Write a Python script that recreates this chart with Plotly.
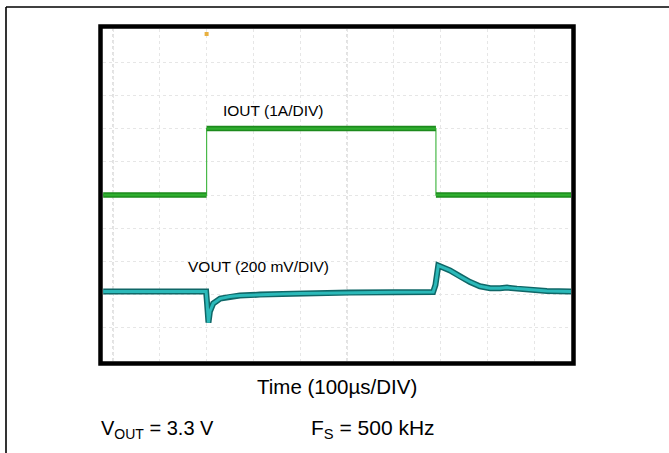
import plotly.graph_objects as go

# ---------------- data ----------------
# time in microseconds (100 us / div)
iout_time = [-21, 200, 200, 690, 690, 979]
iout_amps = [0, 0, 2, 2, 0, 0]          # load current step (A), 1 A/DIV

vout_time = [-21, 100, 199, 201, 204, 207, 214, 229, 250, 271, 314, 360, 400,
             450, 506, 600, 684, 689, 695, 720, 741, 763, 784, 806, 827, 842,
             863, 891, 927, 979]
vout_mv = [0, 0, 0, -70, -187, -120, -72, -42, -30, -24, -18, -14, -12,
           -9, -6, -4, -3, 40, 157, 128, 92, 58, 32, 20, 20, 24,
           18, 10, 4, 0]                 # output deviation (mV), 200 mV/DIV

trigger_time = [200]

IOUT_OFFSET_DIV = 5.0
VOUT_OFFSET_DIV = 2.09
IOUT_SCALE = 1.0      # A per div
VOUT_SCALE = 200.0    # mV per div

x_ticks = [0, 100, 200, 300, 400, 500, 600, 700, 800, 900]
y_ticks = [1, 2, 3, 4, 5, 6, 7, 8, 9]

# ---------------- figure ----------------
W, H = 669, 453
px = lambda x: x / W
py = lambda y: 1 - y / H

iout_div = [IOUT_OFFSET_DIV + a / IOUT_SCALE for a in iout_amps]
vout_div = [VOUT_OFFSET_DIV + v / VOUT_SCALE for v in vout_mv]

# horizontal (thick) segments of the current trace, broken at the edges
seg_x, seg_y = [], []
for i in range(len(iout_time) - 1):
    if iout_time[i] != iout_time[i + 1]:
        seg_x += [iout_time[i], iout_time[i + 1], None]
        seg_y += [iout_div[i], iout_div[i + 1], None]

fig = go.Figure()

# thin step edges
fig.add_trace(go.Scatter(x=iout_time, y=iout_div, mode="lines",
                         line=dict(color="#49b949", width=1.2),
                         hoverinfo="skip", showlegend=False))
fig.add_trace(go.Scatter(x=seg_x, y=seg_y, mode="lines",
                         line=dict(color="#1c8a1c", width=5.5),
                         hoverinfo="skip", showlegend=False))
fig.add_trace(go.Scatter(x=seg_x, y=seg_y, mode="lines",
                         line=dict(color="#2fae2f", width=2.4),
                         hoverinfo="skip", showlegend=False))

# output voltage trace
fig.add_trace(go.Scatter(x=vout_time, y=vout_div, mode="lines",
                         line=dict(color="#0f6767", width=6),
                         hoverinfo="skip", showlegend=False))
fig.add_trace(go.Scatter(x=vout_time, y=vout_div, mode="lines",
                         line=dict(color="#2bb9b9", width=3),
                         hoverinfo="skip", showlegend=False))

# trigger marker
fig.add_trace(go.Scatter(x=trigger_time, y=[9.85] * len(trigger_time), mode="markers",
                         marker=dict(color="#e8b040", size=4, symbol="square"),
                         hoverinfo="skip", showlegend=False))

x0, x1 = 103, 571
y0, y1 = 29, 361
xr0 = (x0 - 113) / 0.468
xr1 = (x1 - 113) / 0.468

fig.update_layout(
    width=W, height=H,
    margin=dict(l=0, r=0, t=0, b=0),
    paper_bgcolor="white", plot_bgcolor="white",
    font=dict(family="Liberation Sans, Arial, sans-serif", color="black"),
    xaxis=dict(domain=[px(x0), px(x1)], range=[xr0, xr1],
               tickvals=x_ticks, showticklabels=False, ticks="",
               showgrid=True, gridcolor="#e6e6e6", griddash="dot", gridwidth=1,
               zeroline=False, showline=False, fixedrange=True),
    yaxis=dict(domain=[py(y1), py(y0)], range=[0, 10],
               tickvals=y_ticks, showticklabels=False, ticks="",
               showgrid=True, gridcolor="#e6e6e6", griddash="dot", gridwidth=1,
               zeroline=False, showline=False, fixedrange=True),
    showlegend=False,
)

# darker reference graticule lines (left marker line and centre line)
for xv in [0, 500]:
    fig.add_shape(type="line", xref="x", yref="y", x0=xv, x1=xv, y0=0, y1=10,
                  line=dict(color="#c4c4c4", width=1, dash="dot"), layer="below")

# scope frame
fig.add_shape(type="rect", xref="paper", yref="paper",
              x0=px(100.5), x1=px(573.5), y0=py(363.5), y1=py(26.5),
              line=dict(color="black", width=4.5), fillcolor="rgba(0,0,0,0)")

# outer page lines
fig.add_shape(type="line", xref="paper", yref="paper",
              x0=px(6), x1=1, y0=py(7), y1=py(7),
              line=dict(color="black", width=1.6))
fig.add_shape(type="line", xref="paper", yref="paper",
              x0=px(6), x1=px(6), y0=py(7), y1=0,
              line=dict(color="black", width=1.6))

def label(x, y, text, size, xanchor="left"):
    fig.add_annotation(x=px(x), y=py(y), xref="paper", yref="paper",
                       xanchor=xanchor, yanchor="middle", text=text,
                       showarrow=False, font=dict(size=size, color="black"))

# trace labels
label(221, 110, "IOUT (1A/DIV)", 15.5)
label(186, 266, "VOUT (200 mV/DIV)", 15.5)

# bottom texts
label(337, 386, "Time (100µs/DIV)", 20.5, xanchor="center")
label(99, 429, "V<sub>OUT</sub> = 3.3 V", 20)
label(309, 429, "F<sub>S</sub> = 500 kHz", 21)

fig.write_html("out.html", config={"displayModeBar": False},
               post_script="document.body.style.margin='0px';document.body.style.overflow='hidden';")
